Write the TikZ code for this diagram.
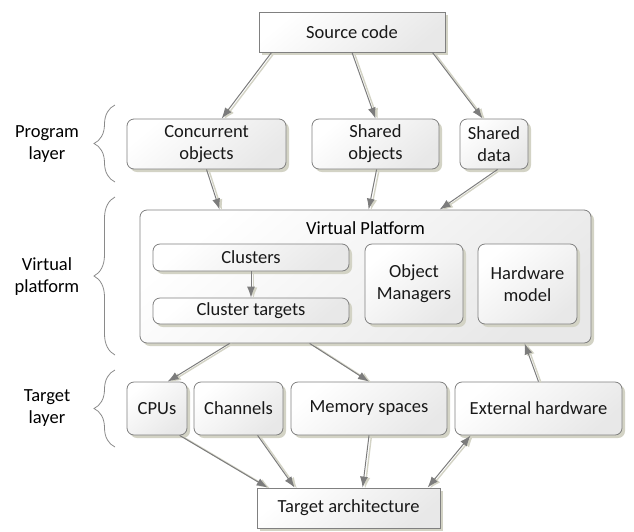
\documentclass[tikz,border=0pt]{standalone}
\usepackage{fontspec}
\setmainfont{Carlito}
\usetikzlibrary{shadows,decorations.pathreplacing,arrows.meta,calc}
\definecolor{bd}{HTML}{808080}
\definecolor{shd}{HTML}{D3D3C5}
\definecolor{arr}{HTML}{7C7C7C}
\definecolor{brc}{HTML}{8A8A8A}
\begin{document}
\begin{tikzpicture}[x=1pt,y=-1pt,font=\fontsize{18.5}{22}\selectfont,
  box/.style={draw=bd,line width=0.8pt,top color=white,bottom color=black!9,shading angle=40,
    drop shadow={shadow xshift=3pt,shadow yshift=-3pt,fill=shd,opacity=1},
    inner sep=0pt,align=center,text=black!90},
  rbox/.style={box,rounded corners=7pt},
  conn/.style={draw=arr,line width=1pt,-{Latex[length=11pt,width=8pt]},
    preaction={draw=shd,line width=1.4pt,transform canvas={xshift=2.4pt,yshift=-0.8pt}}},
  conn2/.style={conn,{Latex[length=11pt,width=8pt]}-{Latex[length=11pt,width=8pt]}},
  lbrace/.style={draw=brc,line width=0.8pt,decorate,decoration={brace,amplitude=21pt,aspect=0.5}},
  layer/.style={align=center,inner sep=0pt}]
\useasboundingbox (0,0) rectangle (634,531);
% top / bottom
\node[box,minimum width=186pt,minimum height=40pt] (src) at (352,32) {Source code};
\node[box,minimum width=183pt,minimum height=40pt] (tgt) at (348.5,508) {Target architecture};
% program layer
\node[rbox,minimum width=159pt,minimum height=50pt] (conc) at (206.5,144) {Concurrent\\objects};
\node[rbox,minimum width=127pt,minimum height=50pt] (sobj) at (375.5,144) {Shared\\objects};
\node[rbox,minimum width=68pt,minimum height=50pt] (sdata) at (494,144) {Shared\\data};
% virtual platform
\node[rbox,minimum width=451pt,minimum height=133pt] (vp) at (365.5,276.5) {};
\node[inner sep=0pt] (vptitle) at (365.5,228) {Virtual Platform};
\node[rbox,minimum width=196pt,minimum height=27pt] (clu) at (251,257.5) {Clusters};
\node[rbox,minimum width=196pt,minimum height=26pt] (clt) at (251,311) {Cluster targets};
\node[rbox,minimum width=98pt,minimum height=80pt] (om) at (414,284) {Object\\Managers};
\node[rbox,minimum width=99pt,minimum height=80pt] (hw) at (527.5,284) {Hardware\\model};
% target layer
\node[rbox,minimum width=60pt,minimum height=53pt] (cpu) at (157,408.5) {CPUs};
\node[rbox,minimum width=89pt,minimum height=53pt] (ch) at (238.5,408.5) {Channels};
\node[rbox,minimum width=156pt,minimum height=53pt] (mem) at (369,408.5) {Memory spaces};
\node[rbox,minimum width=167pt,minimum height=53pt] (ext) at (538.5,408.5) {External hardware};
% connectors
\draw[conn] ([xshift=13pt]src.south west) -- ([xshift=95pt]conc.north west);
\draw[conn] (src.south) -- (sobj.north);
\draw[conn] ([xshift=-13pt]src.south east) -- ([xshift=23pt]sdata.north west);
\draw[conn] (conc.south) -- ([xshift=80pt]vp.north west);
\draw[conn] ([xshift=65pt]sobj.south west) -- ([xshift=229pt]vp.north west);
\draw[conn] ([xshift=38pt]sdata.south west) -- ([xshift=300pt]vp.north west);
\draw[conn] (clu.south) -- (clt.north);
\draw[conn] ([xshift=90pt]vp.south west) -- ([xshift=41pt]cpu.north west);
\draw[conn] ([xshift=170pt]vp.south west) -- (mem.north);
\draw[conn] (ext.north) -- ([xshift=385pt]vp.south west);
\draw[conn] ([xshift=53pt]cpu.south west) -- ([xshift=11pt]tgt.north west);
\draw[conn] ([xshift=64pt]ch.south west) -- ([xshift=38pt]tgt.north west);
\draw[conn] (mem.south) -- ([xshift=106pt]tgt.north west);
\draw[conn2] ([xshift=16pt]ext.south west) -- ([xshift=171pt]tgt.north west);
% braces and layer labels
\coordinate (b1a) at (115,182); \coordinate (b1b) at (115,105);
\coordinate (b2a) at (115,355); \coordinate (b2b) at (115,197);
\coordinate (b3a) at (115,447); \coordinate (b3b) at (115,370);
\draw[lbrace] (b1a) -- (b1b);
\draw[lbrace] (b2a) -- (b2b);
\draw[lbrace] (b3a) -- (b3b);
\node[layer] (lprog) at (47,144) {Program\\layer};
\node[layer] (lvirt) at (47,277) {Virtual\\platform};
\node[layer] (ltgt) at (47,408) {Target\\layer};
\end{tikzpicture}
\end{document}
